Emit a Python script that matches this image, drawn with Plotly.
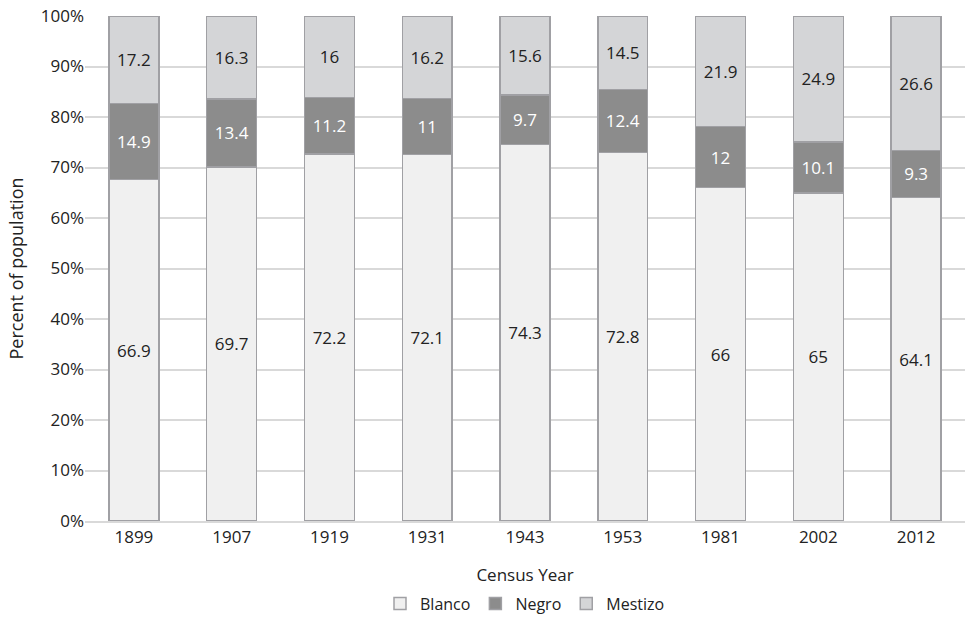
import plotly.graph_objects as go

years = ["1899", "1907", "1919", "1931", "1943", "1953", "1981", "2002", "2012"]
blanco = [66.9, 69.7, 72.2, 72.1, 74.3, 72.8, 66, 65, 64.1]
negro = [14.9, 13.4, 11.2, 11, 9.7, 12.4, 12, 10.1, 9.3]
mestizo = [17.2, 16.3, 16, 16.2, 15.6, 14.5, 21.9, 24.9, 26.6]

series = [
    ("Blanco", blanco, "#f0f0f0", "#222222"),
    ("Negro", negro, "#8c8c8c", "#ffffff"),
    ("Mestizo", mestizo, "#d4d5d7", "#222222"),
]

FONT = "Open Sans, Noto Sans, sans-serif"

fig = go.Figure()
for name, vals, color, tcolor in series:
    fig.add_trace(go.Bar(
        x=years, y=vals, name=name,
        marker=dict(color=color, line=dict(color="#a0a0a4", width=1.5)),
        text=[f"{v:g}" for v in vals],
        texttemplate="%{text}",
        textposition="inside",
        insidetextanchor="middle",
        textangle=0,
        textfont=dict(color=tcolor, size=17, family=FONT),
    ))

fig.update_layout(
    barmode="stack",
    barnorm="percent",
    bargap=0.49,
    width=965, height=618,
    margin=dict(l=85, r=0, t=16, b=97, autoexpand=False),
    paper_bgcolor="white",
    plot_bgcolor="white",
    font=dict(family=FONT, size=17, color="#222222"),
    uniformtext=dict(minsize=17, mode="show"),
    legend=dict(
        orientation="h", x=0.5, xanchor="center", y=-0.13, yanchor="top",
        traceorder="normal", font=dict(size=16), itemwidth=30,
    ),
    xaxis=dict(
        title=dict(text="Census Year", font=dict(size=17), standoff=22),
        showline=True, linecolor="#d9d9d9", linewidth=1.5,
        tickfont=dict(size=17), ticks="", automargin=False,
    ),
    yaxis=dict(
        title=dict(text="Percent of population", font=dict(size=18), standoff=12),
        range=[0, 100], dtick=10, ticksuffix="%",
        showgrid=True, gridcolor="#d9d9d9", gridwidth=1.5,
        zeroline=False, tickfont=dict(size=17), automargin=False,
    ),
)

fig.write_html("out.html")
